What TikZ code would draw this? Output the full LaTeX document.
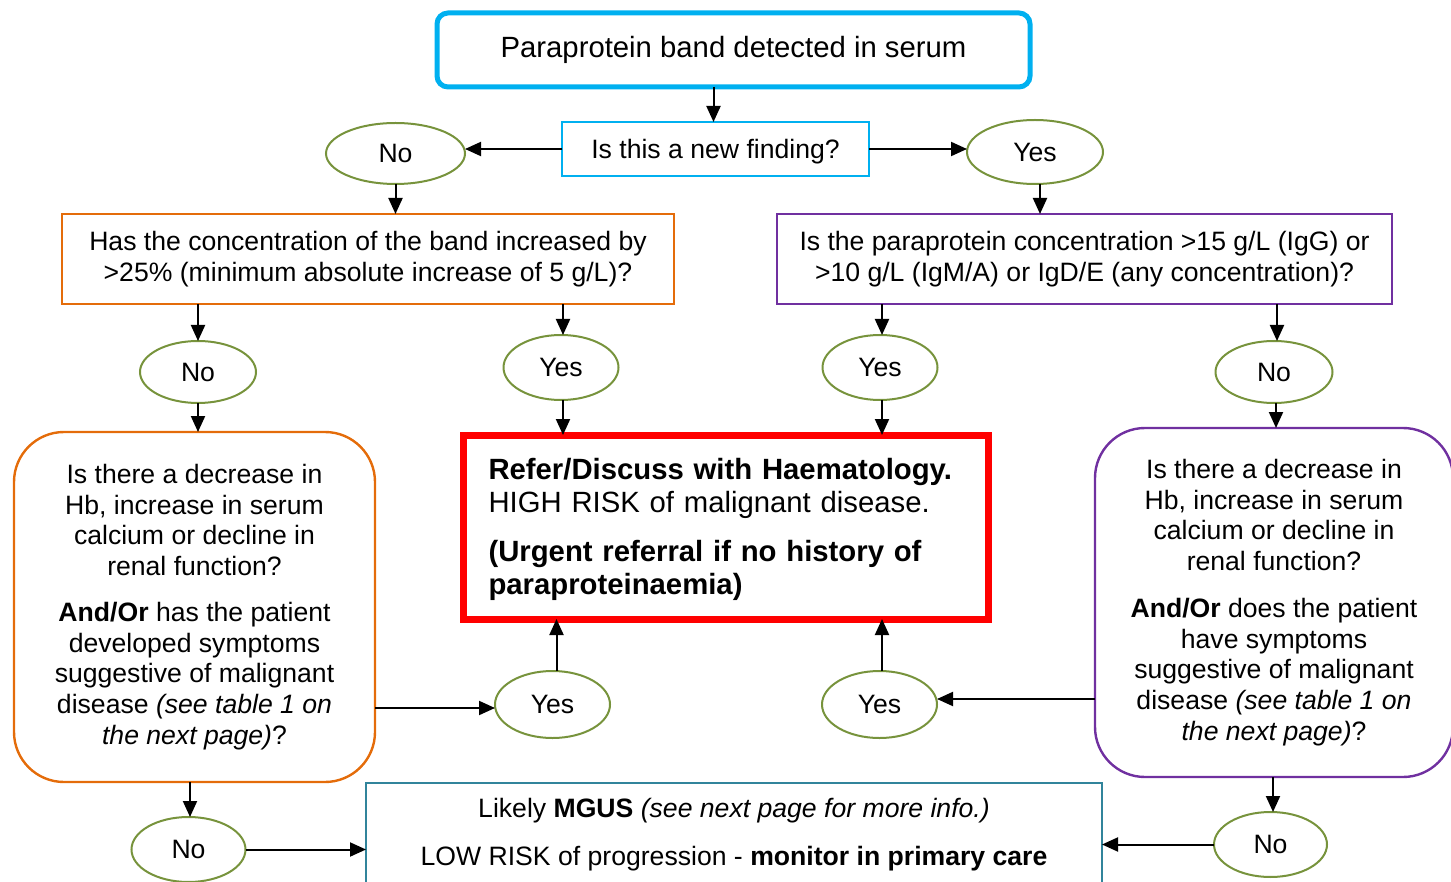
\documentclass[tikz,border=0pt]{standalone}
\usepackage{fontspec}
\setmainfont{Liberation Sans}
\usetikzlibrary{arrows.meta,shapes.geometric}
\definecolor{cyanB}{HTML}{00B0F0}
\definecolor{orangeB}{HTML}{E46C0A}
\definecolor{purpleB}{HTML}{7030A0}
\definecolor{greenB}{HTML}{77933C}
\definecolor{tealB}{HTML}{31849B}
\definecolor{redB}{HTML}{FF0000}
\begin{document}
\begin{tikzpicture}[x=1pt,y=-1pt,
  every node/.style={inner sep=0pt,outer sep=0pt},
  base/.style={font=\fontsize{26.6}{30.7}\selectfont,align=center},
  yn/.style={base,draw=greenB,line width=2pt,ellipse},
  sqbox/.style={base,draw,line width=2.2pt},
  rbox/.style={base,draw,line width=2.4pt,rounded corners=50pt},
  arr/.style={line width=2pt,-{Triangle[length=16pt,width=14pt]}}
]
\useasboundingbox (0,0) rectangle (1451,882);

% boxes
\node[base,draw=cyanB,line width=5pt,rounded corners=11pt,minimum width=593,minimum height=74,font=\fontsize{29.3}{34}\selectfont] (title) at (733.5,50) {Paraprotein band detected in serum};
\node[sqbox,draw=cyanB,minimum width=307,minimum height=54,text height=22pt,text depth=2pt] (q1) at (715.5,149) {Is this a new finding?};
\node[yn,minimum width=139,minimum height=61] (no1) at (395.5,153.5) {No};
\node[yn,minimum width=136,minimum height=64] (yes1) at (1035,152) {Yes};

\node[sqbox,draw=orangeB,minimum width=612,minimum height=90] (qA) at (368,259) {Has the concentration of the band increased by\\>25\% (minimum absolute increase of 5 g/L)?};
\node[sqbox,draw=purpleB,minimum width=615,minimum height=90] (qB) at (1084.5,259) {Is the paraprotein concentration >15 g/L (IgG) or\\>10 g/L (IgM/A) or IgD/E (any concentration)?};

\node[yn,minimum width=116,minimum height=62] (noA) at (198,372) {No};
\node[yn,minimum width=115,minimum height=65] (yesA) at (561,367.5) {Yes};
\node[yn,minimum width=115,minimum height=65] (yesB) at (880,367.5) {Yes};
\node[yn,minimum width=117,minimum height=62] (noB) at (1274,372) {No};

\node[draw=redB,line width=7pt,minimum width=525,minimum height=184] (red) at (725.5,527) {};
\node[text width=474,align=left,font=\fontsize{29.3}{33.5}\selectfont] (redText) at (725.5,529.5)
 {\textbf{Refer/Discuss with Haematology.}\\HIGH RISK of malignant disease.\\[15pt]\textbf{(Urgent referral if no history of}\\\textbf{paraproteinaemia)}};

\node[rbox,draw=orangeB,minimum width=361,minimum height=350] (leftR) at (194.5,607)
 {Is there a decrease in\\Hb, increase in serum\\calcium or decline in\\renal function?\\[15.3pt]\textbf{And/Or} has the patient\\developed symptoms\\suggestive of malignant\\disease \textit{(see table 1 on}\\\textit{the next page)}?};
\node[rbox,draw=purpleB,minimum width=358,minimum height=349] (rightR) at (1274,602.5) {};
\node[base] (rightText) at (1274,602.5)
 {Is there a decrease in\\Hb, increase in serum\\calcium or decline in\\renal function?\\[16pt]\textbf{And/Or} does the patient\\have symptoms\\suggestive of malignant\\disease \textit{(see table 1 on}\\\textit{the next page)}?};

\node[yn,minimum width=115,minimum height=67] (yesC) at (552.5,704.5) {Yes};
\node[yn,minimum width=115,minimum height=67] (yesD) at (879.5,704.5) {Yes};
\node[yn,minimum width=114,minimum height=65] (noC) at (188.5,849.5) {No};
\node[yn,minimum width=113,minimum height=65] (noD) at (1270.5,844.5) {No};

\node[draw=tealB,line width=2pt,minimum width=736,minimum height=130] (mgus) at (734,848) {};
\node[base] (mgusText) at (734,834.5) {Likely \textbf{MGUS} \textit{(see next page for more info.)}\\[18pt]LOW RISK of progression - \textbf{monitor in primary care}};

% connectors
\draw[arr] ([xshift=-2]title.south -| q1.north) -- ([xshift=-2]q1.north);
\draw[arr] (q1.west) -- (q1.west -| no1.east);
\draw[arr] (q1.east) -- (q1.east -| yes1.west);
\draw[arr] (no1.south) -- (no1.south |- qA.north);
\draw[arr] ([xshift=5]yes1.south) -- ([xshift=5]yes1.south |- qB.north);
\draw[arr] (qA.south -| noA.north) -- (noA.north);
\draw[arr] ([xshift=2]qA.south -| yesA.north) -- ([xshift=2]yesA.north);
\draw[arr] ([xshift=2]qB.south -| yesB.north) -- ([xshift=2]yesB.north);
\draw[arr] ([xshift=3]qB.south -| noB.north) -- ([xshift=3]noB.north);
\draw[arr] (noA.south) -- (noA.south |- leftR.north);
\draw[arr] ([xshift=2]yesA.south) -- ([xshift=2]yesA.south |- red.north);
\draw[arr] ([xshift=2]yesB.south) -- ([xshift=2]yesB.south |- red.north);
\draw[arr] ([xshift=2]noB.south) -- ([xshift=2]noB.south |- rightR.north);
\draw[arr] ([yshift=-3.5]leftR.east |- yesC.west) -- ([yshift=-3.5]yesC.west);
\draw[arr] ([xshift=4]yesC.north) -- ([xshift=4]yesC.north |- red.south);
\draw[arr] ([yshift=5.5]rightR.west |- yesD.east) -- ([yshift=5.5]yesD.east);
\draw[arr] ([xshift=2.5]yesD.north) -- ([xshift=2.5]yesD.north |- red.south);
\draw[arr] ([xshift=1.5]leftR.south -| noC.north) -- ([xshift=1.5]noC.north);
\draw[arr] (noC.east) -- (noC.east -| mgus.west);
\draw[arr] ([xshift=2.5]rightR.south -| noD.north) -- ([xshift=2.5]noD.north);
\draw[arr] (noD.west) -- (noD.west -| mgus.east);
\end{tikzpicture}
\end{document}
